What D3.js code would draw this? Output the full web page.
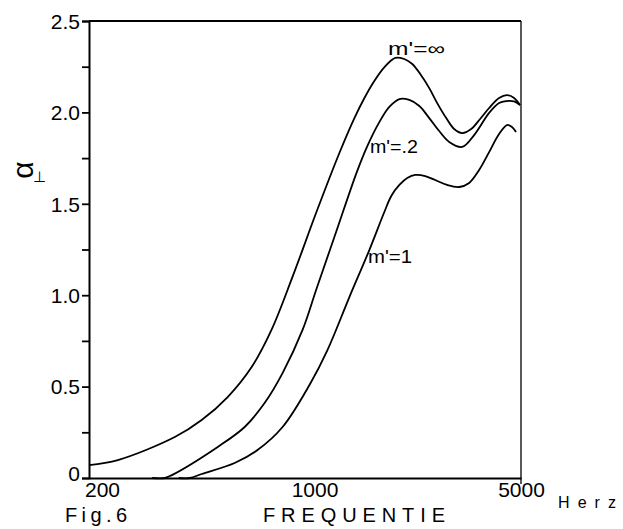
<!DOCTYPE html>
<html>
<head>
<meta charset="utf-8">
<script src="https://cdn.jsdelivr.net/npm/d3@7/dist/d3.min.js"></script>
<style>
  html, body { margin: 0; padding: 0; background: #fff; }
  svg { display: block; }
  text { font-family: "Liberation Sans", Arial, sans-serif; fill: #000; }
</style>
</head>
<body>
<svg id="chart" width="623" height="529"></svg>
<script>
// ---- data ----
const xTicks = [200, 1000, 5000];
const yTicks = [0, 0.25, 0.5, 0.75, 1.0, 1.25, 1.5, 1.75, 2.0, 2.25, 2.5];
const seriesNames = ["m'=∞", "m'=.2", "m'=1"];

const freqInf = [200, 248, 379, 463, 562, 672, 779, 911, 1089, 1292, 1445, 1557, 1676, 1808, 1960, 2094, 2224, 2360, 2524, 2678, 2864, 3038, 3226, 3449, 3687, 3943, 4246, 4506, 4749, 4964];
const valInf  = [0.071, 0.098, 0.224, 0.317, 0.443, 0.607, 0.81, 1.10, 1.455, 1.778, 1.969, 2.079, 2.172, 2.248, 2.298, 2.292, 2.265, 2.21, 2.133, 2.051, 1.969, 1.909, 1.887, 1.909, 1.964, 2.024, 2.079, 2.095, 2.079, 2.04];

const freqM2 = [320, 352, 371, 522, 638, 740, 846, 982, 1089, 1264, 1467, 1591, 1740, 1874, 2020, 2175, 2344, 2524, 2718, 2928, 3226, 3526, 3943, 4246, 4474, 4749, 4964];
const valM2  = [0, 0, 0.016, 0.17, 0.279, 0.41, 0.574, 0.81, 1.034, 1.351, 1.668, 1.816, 1.947, 2.03, 2.073, 2.068, 2.035, 1.969, 1.898, 1.838, 1.811, 1.876, 1.997, 2.051, 2.062, 2.06, 2.04];

const freqM1 = [390, 424, 463, 592, 702, 846, 1034, 1182, 1392, 1615, 1806, 1902, 2020, 2142, 2274, 2449, 2638, 2884, 3154, 3398, 3660, 3943, 4246, 4506, 4676, 4818];
const valM1  = [0, 0, 0.022, 0.082, 0.153, 0.279, 0.509, 0.70, 0.99, 1.247, 1.455, 1.543, 1.603, 1.641, 1.658, 1.652, 1.630, 1.603, 1.592, 1.614, 1.685, 1.783, 1.882, 1.931, 1.920, 1.893];

// ---- layout ----
const svg = d3.select("#chart");
const L = 89, R = 521, T = 21, B = 478;

const x = d3.scaleLog().domain([200, 5000]).range([L, R]);
const y = d3.scaleLinear().domain([0, 2.5]).range([B, T]);

// frame: top and right border
svg.append("line").attr("x1", L).attr("x2", R).attr("y1", T).attr("y2", T)
  .attr("stroke", "#000").attr("stroke-width", 1.8);
svg.append("line").attr("x1", R).attr("x2", R).attr("y1", T).attr("y2", B + 6)
  .attr("stroke", "#000").attr("stroke-width", 1.3);

// y axis
const yAxis = d3.axisLeft(y)
  .tickValues(yTicks)
  .tickSize(7)
  .tickPadding(2)
  .tickFormat(d => (Math.abs(d * 2 - Math.round(d * 2)) < 1e-9) ? (d === 0 ? "0" : d.toFixed(1)) : "");
const gy = svg.append("g").attr("transform", `translate(${L},0)`).call(yAxis);
gy.select(".domain").attr("stroke", "#000").attr("stroke-width", 2);
gy.selectAll(".tick line").attr("stroke", "#000").attr("stroke-width", 1.8);
gy.selectAll(".tick text")
  .style("font-family", "'Liberation Sans', Arial, sans-serif")
  .style("font-size", "21px")
  .attr("fill", "#000")
  .attr("dy", d => d === 0 ? "0.1em" : "0.35em");

// x axis
const xLabelDx = {200: 13, 1000: 9.5, 5000: 0};
const xAxis = d3.axisBottom(x)
  .tickValues(xTicks)
  .tickSize(0)
  .tickPadding(4)
  .tickFormat(d3.format("d"));
const gx = svg.append("g").attr("transform", `translate(0,${B})`).call(xAxis);
gx.select(".domain").attr("stroke", "#000").attr("stroke-width", 2);
gx.selectAll(".tick text")
  .style("font-family", "'Liberation Sans', Arial, sans-serif")
  .style("font-size", "21px")
  .attr("fill", "#000")
  .attr("dx", d => xLabelDx[d]);

// curves
const line = d3.line()
  .x(d => x(d[0]))
  .y(d => y(d[1]))
  .curve(d3.curveCatmullRom.alpha(0.5));

const series = [
  d3.zip(freqInf, valInf),
  d3.zip(freqM2, valM2),
  d3.zip(freqM1, valM1)
];
series.forEach(s => {
  svg.append("path").attr("d", line(s))
    .attr("fill", "none").attr("stroke", "#000").attr("stroke-width", 1.8)
    .attr("stroke-linejoin", "round");
});

// curve labels
const labelPos = [[388, 55, 57], [370, 153, 48], [368, 263, 44]];
seriesNames.forEach((n, i) => {
  svg.append("text").attr("x", labelPos[i][0]).attr("y", labelPos[i][1])
    .attr("textLength", labelPos[i][2]).attr("lengthAdjust", "spacingAndGlyphs")
    .style("font-size", "18px").text(n);
});

// y label: rotated alpha with perpendicular subscript
svg.append("text").attr("transform", "translate(33,170) rotate(-90)")
  .attr("text-anchor", "middle")
  .style("font-size", "30px").text("α");
svg.append("text").attr("x", 33).attr("y", 182)
  .style("font-size", "15px").text("⊥");

// x axis title, unit, figure label
svg.append("text").attr("x", 263).attr("y", 522)
  .attr("textLength", 182).attr("lengthAdjust", "spacing")
  .style("font-size", "20px").text("FREQUENTIE");
svg.append("text").attr("x", 558).attr("y", 508)
  .attr("textLength", 58).attr("lengthAdjust", "spacing")
  .style("font-size", "16px").text("Herz");
svg.append("text").attr("x", 65).attr("y", 522)
  .attr("textLength", 62).attr("lengthAdjust", "spacing")
  .style("font-size", "20px").text("Fig.6");
</script>
</body>
</html>
